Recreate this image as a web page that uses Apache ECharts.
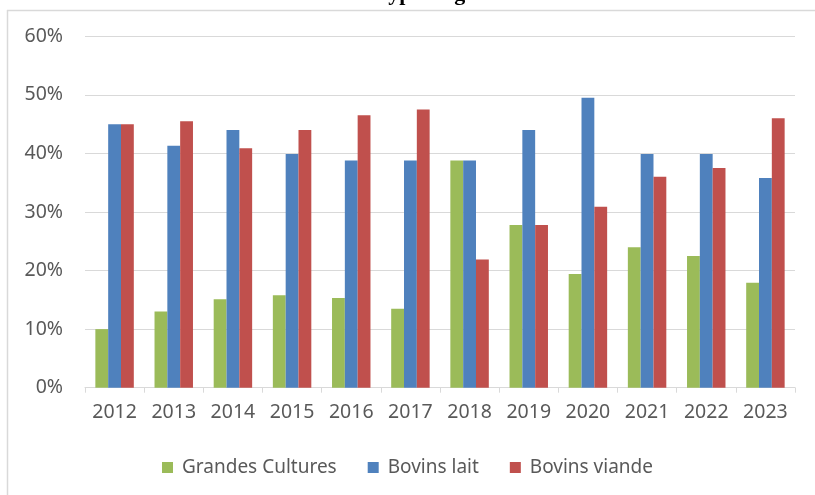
<!DOCTYPE html>
<html>
<head>
<meta charset="utf-8">
<script src="https://cdn.jsdelivr.net/npm/echarts@6/dist/echarts.min.js"></script>
<style>html,body{margin:0;padding:0;background:#fff;}#c{width:815px;height:495px;}</style>
</head>
<body>
<div id="c"></div>
<script>
var categories = ['2012','2013','2014','2015','2016','2017','2018','2019','2020','2021','2022','2023'];
var grandesCultures = [10.0, 13.0, 15.1, 15.8, 15.3, 13.5, 38.8, 27.8, 19.4, 24.0, 22.5, 17.9];
var bovinsLait      = [45.0, 41.3, 44.0, 39.9, 38.8, 38.8, 38.8, 44.0, 49.5, 39.9, 39.9, 35.8];
var bovinsViande    = [45.0, 45.5, 40.9, 44.0, 46.5, 47.5, 21.9, 27.8, 30.9, 36.0, 37.5, 46.0];
var seriesNames = ['Grandes Cultures', 'Bovins lait', 'Bovins viande'];
var yTicks = [0, 10, 20, 30, 40, 50, 60];

var font = '"Noto Sans", "Open Sans", sans-serif';
var chart = echarts.init(document.getElementById('c'), null, {renderer: 'canvas'});
chart.setOption({
  animation: false,
  backgroundColor: '#ffffff',
  color: ['#9BBB59', '#4F81BD', '#C0504D'],
  graphic: [
    {type: 'text', left: 381, top: -17, style: {text: 'type de gestion', font: 'bold 22px "Liberation Serif", serif', fill: '#000'}},
    {type: 'line', shape: {x1: 7, y1: 10.5, x2: 815, y2: 10.5}, style: {stroke: '#d9d9d9', lineWidth: 1.5}},
    {type: 'line', shape: {x1: 7.5, y1: 10, x2: 7.5, y2: 495}, style: {stroke: '#d9d9d9', lineWidth: 1.5}}
  ],
  grid: {left: 85, right: 20, top: 36.3, bottom: 107.3, containLabel: false},
  legend: {
    data: seriesNames,
    bottom: 13,
    left: 'center',
    itemWidth: 11,
    itemHeight: 11,
    itemGap: 31,
    icon: 'rect',
    textStyle: {fontFamily: font, fontSize: 19, color: '#595959', padding: [0, 0, 0, 4]}
  },
  xAxis: {
    type: 'category',
    data: categories,
    axisLine: {lineStyle: {color: '#d9d9d9', width: 1}},
    axisTick: {show: true, length: 5, lineStyle: {color: '#d9d9d9'}},
    axisLabel: {fontFamily: font, fontSize: 19.5, color: '#595959', margin: 15}
  },
  yAxis: {
    type: 'value',
    min: yTicks[0],
    max: yTicks[yTicks.length - 1],
    interval: 10,
    axisLine: {show: false},
    axisTick: {show: false},
    splitLine: {lineStyle: {color: '#d9d9d9', width: 1}},
    axisLabel: {fontFamily: font, fontSize: 19.5, color: '#595959', margin: 22, formatter: '{value}%'}
  },
  series: [
    {name: seriesNames[0], type: 'bar', data: grandesCultures, barGap: '0%', barCategoryGap: '35%'},
    {name: seriesNames[1], type: 'bar', data: bovinsLait, barGap: '0%', barCategoryGap: '35%'},
    {name: seriesNames[2], type: 'bar', data: bovinsViande, barGap: '0%', barCategoryGap: '35%'}
  ]
});
</script>
</body>
</html>
